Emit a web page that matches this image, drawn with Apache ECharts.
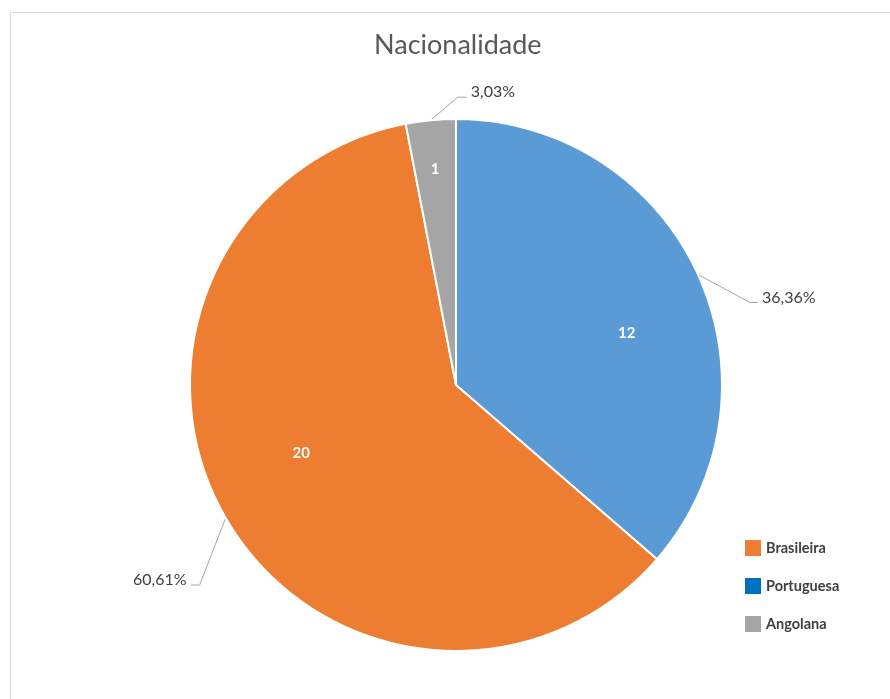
<!DOCTYPE html>
<html><head><meta charset="utf-8">
<script src="https://cdn.jsdelivr.net/npm/echarts@6/dist/echarts.min.js"></script>
<style>html,body{margin:0;padding:0;background:#fff}#c{width:890px;height:699px}</style>
</head><body><div id="c"></div>
<script>
// ---- data ----
const categories = ['Portuguesa', 'Brasileira', 'Angolana'];
const values = [12, 20, 1];
const legendOrder = ['Brasileira', 'Portuguesa', 'Angolana'];

// ---- styles ----
const sliceColors = ['#5B9BD5', '#ED7D31', '#A5A5A5'];
const legendColors = { Brasileira: '#ED7D31', Portuguesa: '#0070C0', Angolana: '#A5A5A5' };
// inside label shift from library's default inside position
const innerLabelShift = [[47, 5], [-37, 0], [-8, -80]];
// leader line shape: [dx, dy, horizontal length, side]
const leader = [[52, 28, 8, 1], [-26, 67, 9, -1], [27, -23, 9, 1]];

const FONT = 'Lato';
const CENTER = [456, 385];
const R = 266;

const chart = echarts.init(document.getElementById('c'));
chart.setOption({
  animation: false,
  title: {
    text: 'Nacionalidade', left: 369, top: 27,
    textStyle: { fontFamily: FONT, fontSize: 27, fontWeight: 'normal', color: '#595959' }
  },
  legend: {
    orient: 'vertical', left: 745, top: 540, padding: 0,
    icon: 'rect',
    itemWidth: 16, itemHeight: 16, itemGap: 22,
    selectedMode: false,
    data: legendOrder.map(n => ({ name: n, itemStyle: { color: legendColors[n], borderWidth: 0 } })),
    textStyle: { fontFamily: FONT, fontSize: 14.5, fontWeight: 'bold', color: '#404040' }
  },
  graphic: [{
    type: 'rect', silent: true,
    shape: { x: 10.5, y: 12.5, width: 900, height: 700 },
    style: { fill: 'none', stroke: '#d9d9d9', lineWidth: 1 }
  }],
  series: [
    {
      type: 'pie', center: CENTER, radius: R, startAngle: 90, clockwise: true,
      data: categories.map((c, i) => ({ name: c, value: values[i], itemStyle: { color: sliceColors[i] } })),
      itemStyle: { borderColor: '#fff', borderWidth: 2 },
      label: { position: 'inside', formatter: '{c}', color: '#fff', fontWeight: 'bold', fontSize: 15, fontFamily: FONT },
      labelLine: { show: false },
      labelLayout: p => ({ dx: innerLabelShift[p.dataIndex][0], dy: innerLabelShift[p.dataIndex][1] }),
      emphasis: { disabled: true }
    },
    {
      type: 'pie', center: CENTER, radius: R, startAngle: 90, clockwise: true, silent: true,
      avoidLabelOverlap: false,
      data: categories.map((c, i) => ({ name: c, value: values[i] })),
      itemStyle: { color: 'rgba(0,0,0,0)', borderWidth: 0 },
      label: {
        position: 'outside', color: '#404040', fontSize: 16, fontFamily: FONT,
        formatter: p => p.percent.toFixed(2).replace('.', ',') + '%'
      },
      labelLine: { show: true, length: 15, length2: 10, lineStyle: { color: '#A6A6A6', width: 1 } },
      labelLayout: function (p) {
        const L = leader[p.dataIndex];
        const pts = p.labelLinePoints;
        const p0 = pts[0];
        const p1 = [p0[0] + L[0], p0[1] + L[1]];
        const p2 = [p1[0] + L[2] * L[3], p1[1]];
        const r = p.labelRect;
        const tx = L[3] > 0 ? p2[0] + 4 : p2[0] - 4 - r.width;
        const ty = p2[1] - 5 - r.height / 2;
        return { dx: tx - r.x, dy: ty - r.y, labelLinePoints: [p0, p1, p2] };
      },
      emphasis: { disabled: true }
    }
  ]
});
</script>
</body></html>
